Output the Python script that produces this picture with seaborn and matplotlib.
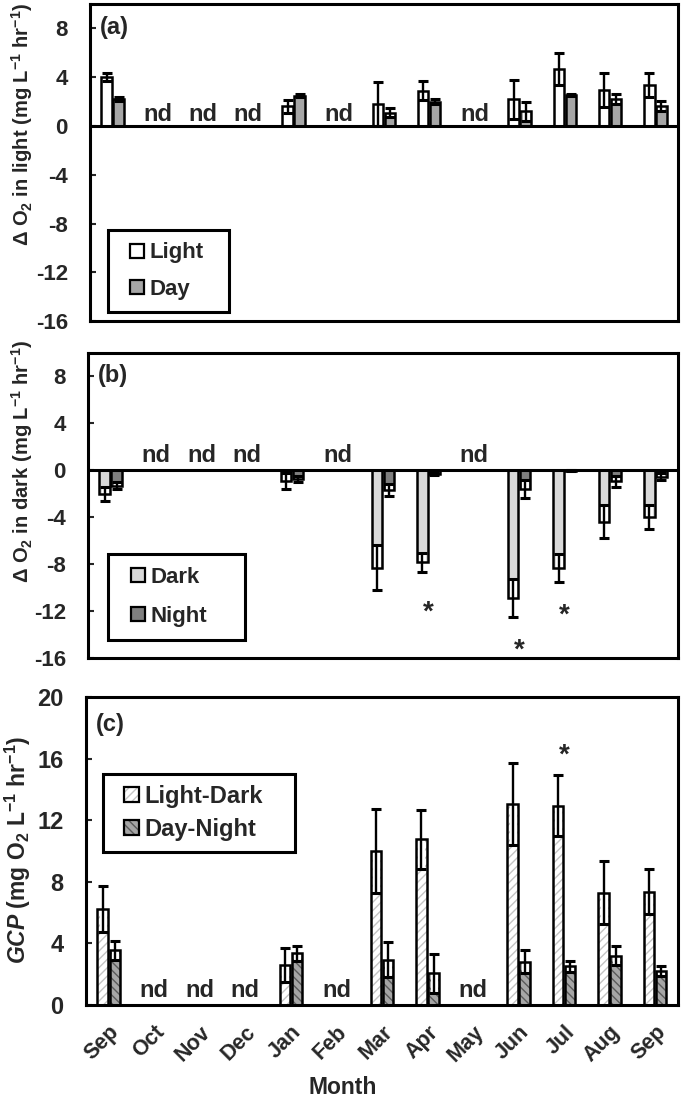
import numpy as np
import pandas as pd
import seaborn as sns
import matplotlib.pyplot as plt
from matplotlib.patches import Patch, Rectangle
from matplotlib.legend_handler import HandlerPatch

sns.set_theme(style="white")
plt.rcParams["font.family"] = ["Liberation Sans", "DejaVu Sans"]
plt.rcParams["font.weight"] = "bold"
plt.rcParams["axes.unicode_minus"] = False
plt.rcParams["mathtext.fontset"] = "custom"
plt.rcParams["mathtext.rm"] = "Liberation Sans:bold"
plt.rcParams["mathtext.it"] = "Liberation Sans:italic:bold"
plt.rcParams["mathtext.bf"] = "Liberation Sans:bold"

nan = np.nan
months = ["Sep", "Oct", "Nov", "Dec", "Jan", "Feb", "Mar", "Apr", "May", "Jun", "Jul", "Aug", "Sep"]
periods = [f"{m}-{i}" for i, m in enumerate(months)]  # unique keys, Sep appears twice

# (a) change in O2 in light bottles / daytime
light = [4.0, nan, nan, nan, 1.6, nan, 1.8, 2.9, nan, 2.2, 4.7, 2.95, 3.35]
light_err = [0.35, nan, nan, nan, 0.55, nan, 1.8, 0.8, nan, 1.6, 1.3, 1.4, 1.0]
day = [2.2, nan, nan, nan, 2.5, nan, 1.1, 2.0, nan, 1.2, 2.55, 2.2, 1.65]
day_err = [0.15, nan, nan, nan, 0.15, nan, 0.4, 0.2, nan, 0.8, 0.05, 0.4, 0.4]

# (b) change in O2 in dark bottles / night
dark = [-2.0, nan, nan, nan, -0.9, nan, -8.3, -7.85, nan, -10.9, -8.3, -4.4, -4.0]
dark_err = [0.6, nan, nan, nan, 0.7, nan, 1.9, 0.8, nan, 1.6, 1.2, 1.4, 1.0]
night = [-1.3, nan, nan, nan, -0.75, nan, -1.7, -0.3, nan, -1.6, -0.05, -0.95, -0.55]
night_err = [0.3, nan, nan, nan, 0.25, nan, 0.5, 0.1, nan, 0.75, 0.05, 0.45, 0.3]

# (c) gross community production
light_dark = [6.25, nan, nan, nan, 2.6, nan, 10.0, 10.75, nan, 13.05, 12.95, 7.3, 7.35]
light_dark_err = [1.5, nan, nan, nan, 1.1, nan, 2.7, 1.9, nan, 2.65, 1.95, 2.05, 1.45]
day_night = [3.55, nan, nan, nan, 3.35, nan, 2.95, 2.05, nan, 2.8, 2.5, 3.2, 2.2]
day_night_err = [0.6, nan, nan, nan, 0.5, nan, 1.15, 1.25, nan, 0.75, 0.35, 0.6, 0.35]

nd_months = [1, 2, 3, 5, 8]
stars_b = {7: -12.1, 9: -15.4, 10: -12.4}
stars_c = {10: 16.2}


def long_frame(kinds, values, errs):
    rows = []
    for kind, vals, es in zip(kinds, values, errs):
        for p, v, e in zip(periods, vals, es):
            rows.append({"period": p, "kind": kind, "value": v, "err": e})
    return pd.DataFrame(rows)


def draw_panel(ax, kinds, values, errs, faces, hatches=None, hatch_colors=None):
    df = long_frame(kinds, values, errs)
    sns.barplot(data=df, x="period", y="value", hue="kind", order=periods,
                hue_order=kinds, palette=faces, width=0.53, gap=0.13,
                errorbar=None, edgecolor="black", linewidth=0, legend=False,
                ax=ax)
    xs, vs, es = [], [], []
    for i, cont in enumerate(ax.containers):
        for bar in cont:
            h = bar.get_height()
            if np.isnan(h):
                continue
            if hatches is not None:
                bar.set_hatch(hatches[i])
                bar.set_edgecolor(hatch_colors[i])
                bar.set_linewidth(0)
            ax.add_patch(Rectangle(bar.get_xy(), bar.get_width(), h, fill=False,
                                   edgecolor="black", linewidth=1.8, zorder=1.7))
            xc = bar.get_x() + bar.get_width() / 2
            k = int(round(xc))
            xs.append(xc)
            vs.append(values[i][k])
            es.append(errs[i][k])
    xs, vs, es = np.array(xs), np.array(vs), np.array(es)
    inner = np.minimum(es, np.abs(vs))
    lo = np.where(vs > 0, inner, 0)
    hi = np.where(vs > 0, 0, inner)
    ax.errorbar(xs, vs, yerr=[lo, hi], fmt="none", ecolor="white",
                elinewidth=5, capsize=0, zorder=1.5)
    ax.errorbar(xs, vs, yerr=es, fmt="none", ecolor="black", elinewidth=1.7,
                capsize=3.6, capthick=2.2, zorder=3)
    for s in ax.spines.values():
        s.set_visible(True)
        s.set_linewidth(2.2)
        s.set_color("black")
    ax.set_xlim(-0.5, len(periods) - 0.5)
    ax.set_xlabel("")


class SquareHandler(HandlerPatch):
    # small square handle pushed to the right end of the handle box
    def create_artists(self, legend, orig_handle, xdescent, ydescent, width,
                       height, fontsize, trans):
        side = height
        p = Rectangle((width - side - xdescent, -ydescent), side, side)
        self.update_prop(p, orig_handle, legend)
        p.set_transform(trans)
        return [p]


def add_legend(ax, labels, handles, loc, anchor, fs, spacing, pad):
    leg = ax.legend(handles, labels, loc=loc, bbox_to_anchor=anchor,
                    mode="expand", borderaxespad=0, frameon=True,
                    fancybox=False, edgecolor="black", framealpha=1,
                    handlelength=1.05, handleheight=0.6, handletextpad=0.25,
                    labelspacing=spacing, borderpad=pad,
                    handler_map={Patch: SquareHandler()},
                    prop={"weight": "bold", "size": fs})
    leg.get_frame().set_linewidth(2.2)


fig = plt.figure(figsize=(6.85, 11.04), dpi=100)
ax_a = fig.add_axes([0.1314, 0.7092, 0.8584, 0.2871])
ax_b = fig.add_axes([0.1285, 0.4040, 0.8613, 0.2763])
ax_c = fig.add_axes([0.1255, 0.0897, 0.8642, 0.2790])

draw_panel(ax_a, ["Light", "Day"], [light, day], [light_err, day_err],
           ["white", "#a6a6a6"])
draw_panel(ax_b, ["Dark", "Night"], [dark, night], [dark_err, night_err],
           ["#d9d9d9", "#7f7f7f"])
draw_panel(ax_c, ["Light-Dark", "Day-Night"], [light_dark, day_night],
           [light_dark_err, day_night_err], ["white", "#a6a6a6"],
           hatches=["////", "\\\\\\\\"], hatch_colors=["#c4c4c4", "#5a5a5a"])

for ax, lab, ylab, nd_y, lab_xy in [
    (ax_a, "(a)", "\u0394 O$_2$ in light (mg L$^{-1}$ hr$^{-1}$)", 0.4, (-0.0935, 0.62)),
    (ax_b, "(b)", "\u0394 O$_2$ in dark (mg L$^{-1}$ hr$^{-1}$)", 0.7, (-0.09, 0.646)),
]:
    ax.set_ylim(-16, 10)
    ax.set_yticks([-16, -12, -8, -4, 0, 4, 8])
    ax.axhline(0, color="black", linewidth=2.2, zorder=2.5)
    ax.tick_params(axis="x", bottom=False, labelbottom=False)
    ax.tick_params(axis="y", direction="in", length=4, width=1.5, pad=16,
                   labelsize=16, left=True)
    ax.set_ylabel(ylab, fontsize=14.5, fontweight="bold")
    ax.yaxis.set_label_coords(*lab_xy)
    ax.text(0.017, 0.925, lab, transform=ax.transAxes, fontsize=17,
            fontweight="bold", va="center", ha="left")
    for m in nd_months:
        ax.text(m, nd_y, "nd", ha="center", va="baseline", fontsize=17,
                fontweight="bold")

for m, y in stars_b.items():
    ax_b.text(m, y, "*", ha="center", va="center", fontsize=20, fontweight="bold")

ax_c.set_ylim(0, 20)
ax_c.set_yticks([0, 4, 8, 12, 16, 20])
ax_c.tick_params(axis="y", direction="in", length=4, width=1.5, pad=16,
                 labelsize=17, left=True)
ax_c.set_xticks(range(len(periods)))
ax_c.set_xticklabels(months, rotation=45, ha="right", rotation_mode="anchor",
                     fontsize=15.5, fontweight="bold")
ax_c.tick_params(axis="x", length=0, pad=12, bottom=True)
ax_c.set_ylabel("$\\mathit{GCP}$ (mg O$_2$ L$^{-1}$ hr$^{-1}$)", fontsize=16.5,
                fontweight="bold")
ax_c.yaxis.set_label_coords(-0.0895, 0.503)
ax_c.text(0.017, 0.912, "(c)", transform=ax_c.transAxes, fontsize=17,
          fontweight="bold", va="center", ha="left")
for m in nd_months:
    ax_c.text(m, 0.5, "nd", ha="center", va="baseline", fontsize=17,
              fontweight="bold")
for m, y in stars_c.items():
    ax_c.text(m, y, "*", ha="center", va="center", fontsize=20, fontweight="bold")

fig.text(343 / 685, 1 - 1088 / 1104, "Month", ha="center", va="center",
         fontsize=16.5, fontweight="bold")

add_legend(ax_a, ["Light", "Day"],
           [Patch(facecolor="white", edgecolor="black", linewidth=1.6),
            Patch(facecolor="#a6a6a6", edgecolor="black", linewidth=1.6)],
           "lower left", (0.031, 0.028, 0.206, 0.25), 16, 0.7, 0.55)
add_legend(ax_b, ["Dark", "Night"],
           [Patch(facecolor="#d9d9d9", edgecolor="black", linewidth=1.6),
            Patch(facecolor="#7f7f7f", edgecolor="black", linewidth=1.6)],
           "lower left", (0.034, 0.059, 0.232, 0.28), 16, 0.8, 0.6)
add_legend(ax_c, ["Light-Dark", "Day-Night"],
           [(Patch(facecolor="white", hatch="////", edgecolor="#c4c4c4", linewidth=0),
             Patch(facecolor="none", edgecolor="black", linewidth=1.6)),
            (Patch(facecolor="#a6a6a6", hatch="\\\\\\\\", edgecolor="#5a5a5a", linewidth=0),
             Patch(facecolor="none", edgecolor="black", linewidth=1.6))],
           "upper left", (0.029, 0.0, 0.324, 0.75), 17, 0.45, 0.45)

fig.savefig("out.png", dpi=100)
plt.close(fig)
